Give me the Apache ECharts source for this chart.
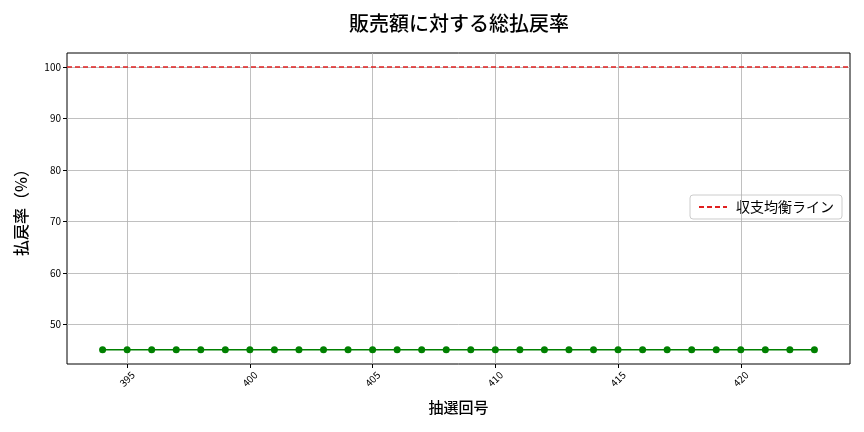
<!DOCTYPE html>
<html><head><meta charset="utf-8">
<script src="https://cdn.jsdelivr.net/npm/echarts@6/dist/echarts.min.js"></script>
<style>html,body{margin:0;padding:0;background:#fff}#c{width:864px;height:432px}</style>
</head><body><div id="c"></div>
<script>
const draws = [394,395,396,397,398,399,400,401,402,403,404,405,406,407,408,409,410,411,412,413,414,415,416,417,418,419,420,421,422,423];
const payoutRate = [45,45,45,45,45,45,45,45,45,45,45,45,45,45,45,45,45,45,45,45,45,45,45,45,45,45,45,45,45,45];
const breakEven = 100;
const xTicks = [395,400,405,410,415,420];
const yTicks = [50,60,70,80,90,100];
const FONT = '"Noto Sans CJK JP", "DejaVu Sans", sans-serif';

const chart = echarts.init(document.getElementById('c'), null, {renderer:'canvas'});
chart.setOption({
  animation:false,
  backgroundColor:'#fff',
  title:{text:'販売額に対する総払戻率', left:454, textAlign:'center', top:8, textStyle:{fontFamily:FONT, fontSize:20, fontWeight:500, color:'#000'}},
  grid:{left:67, right:14, top:53, bottom:68, show:true, borderColor:'#000', borderWidth:1},
  legend:{data:[{name:'収支均衡ライン'}], right:22, top:195, orient:'vertical',
    backgroundColor:'#fff', borderColor:'#ccc', borderWidth:1, borderRadius:3, padding:[5,8],
    itemWidth:28, itemHeight:10, itemGap:8, itemStyle:{opacity:0},
    textStyle:{fontFamily:FONT, fontSize:14, color:'#000', padding:[0,0,0,4]}},
  xAxis:{type:'value', min:392.55, max:424.45,
    name:'抽選回号', nameLocation:'middle', nameGap:36, nameTextStyle:{fontFamily:FONT, fontSize:15, fontWeight:500, color:'#000'},
    axisLine:{show:false},
    axisTick:{show:true, customValues:xTicks, length:4, lineStyle:{color:'#000'}},
    axisLabel:{customValues:xTicks, rotate:45, align:'center', verticalAlign:'middle', fontFamily:FONT, fontSize:10, color:'#000', margin:15},
    splitLine:{show:false}},
  yAxis:{type:'value', min:42.25, max:102.75,
    name:'払戻率（%）', nameLocation:'middle', nameGap:38, nameRotate:90, nameTextStyle:{fontFamily:FONT, fontSize:16, fontWeight:500, color:'#000'},
    axisLine:{show:false},
    axisTick:{show:true, customValues:yTicks, length:4, lineStyle:{color:'#000'}},
    axisLabel:{customValues:yTicks, fontFamily:FONT, fontSize:10, color:'#000', margin:6},
    splitLine:{show:false}},
  series:[
    {name:'grid', type:'line', data:[], silent:true,
      markLine:{silent:true, symbol:'none', label:{show:false}, animation:false,
        lineStyle:{color:'#b0b0b0', width:0.8, type:'solid'},
        data: xTicks.map(v=>({xAxis:v})).concat(yTicks.map(v=>({yAxis:v})))}},
    {name:'総払戻率', type:'line', data:draws.map((d,i)=>[d,payoutRate[i]]),
      color:'#008000', lineStyle:{color:'#008000', width:1.5}, symbol:'circle', symbolSize:7,
      itemStyle:{color:'#008000'}, z:5},
    {name:'収支均衡ライン', type:'line', data:[], color:'#e02020', symbol:'none',
      lineStyle:{color:'#e02020', type:[5,3], width:1.5},
      markLine:{silent:true, symbol:'none', label:{show:false}, animation:false,
        lineStyle:{color:'#e02020', type:[5,3], width:1.5}, data:[{yAxis:breakEven}]}, z:4}
  ]
});
</script></body></html>
